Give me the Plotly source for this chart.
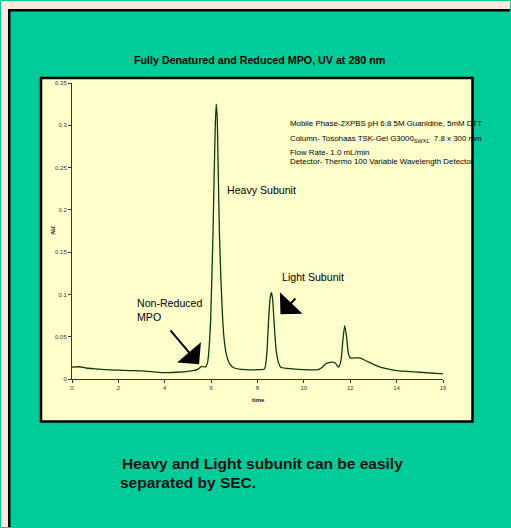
import plotly.graph_objects as go

# ---- data ----
time = [0.0, 0.3, 0.6, 1.0, 1.5, 2.0, 2.5, 3.0, 3.5, 4.0, 4.5, 5.0, 5.4, 5.6, 5.75,
        5.85, 5.92, 5.98, 6.03, 6.08, 6.13, 6.18, 6.22, 6.26, 6.31, 6.36, 6.42, 6.48,
        6.55, 6.65, 6.8, 7.0, 7.5, 8.0, 8.3, 8.4, 8.48, 8.55, 8.6, 8.65, 8.72, 8.8,
        8.9, 9.0, 9.5, 10.0, 10.6, 10.75, 10.95, 11.2, 11.35, 11.5, 11.6, 11.68, 11.76,
        11.84, 11.92, 12.0, 12.4, 12.8, 13.2, 13.6, 14.0, 15.0, 16.0]
au = [0.014, 0.0145, 0.013, 0.012, 0.011, 0.0105, 0.010, 0.0095, 0.0085, 0.0075, 0.008,
      0.009, 0.011, 0.015, 0.014, 0.02, 0.04, 0.07, 0.12, 0.17, 0.24, 0.30, 0.325, 0.31,
      0.24, 0.17, 0.12, 0.08, 0.05, 0.03, 0.018, 0.013, 0.011, 0.011, 0.012, 0.03, 0.07,
      0.097, 0.102, 0.095, 0.065, 0.035, 0.02, 0.014, 0.012, 0.011, 0.011, 0.013, 0.018,
      0.020, 0.019, 0.014, 0.022, 0.045, 0.063, 0.05, 0.03, 0.025, 0.025, 0.02, 0.015,
      0.012, 0.01, 0.008, 0.006]

x_ticks = [0, 2, 4, 6, 8, 10, 12, 14, 16]
y_ticks = [0, 0.05, 0.1, 0.15, 0.2, 0.25, 0.3, 0.35]

title_text = "Fully Denatured and Reduced MPO, UV at 280 nm"
info_lines = [
    "Mobile Phase-2XPBS pH 6.8 5M Guanidine, 5mM DTT",
    "Column- Tosohaas TSK-Gel G3000<sub>SWXL</sub>  7.8 x 300 mm",
    "Flow Rate- 1.0 mL/min",
    "Detector- Thermo 100 Variable Wavelength Detector",
]
caption_lines = ["Heavy and Light subunit can be easily", "separated by SEC."]

W, H = 511, 528
ML, MR, MT, MB = 72, 68, 83, 149
PW, PH = W - ML - MR, H - MT - MB


def px(x):
    return (x - ML) / PW


def py(y):
    return (H - MB - y) / PH


FONT = "Liberation Sans, Arial, sans-serif"
GREEN = "#00CC99"
CREAM = "#FFFFCC"
PEACH = "#FEEBDC"


def box(x0, x1, y0, y1, fill):
    return dict(type="rect", xref="paper", yref="paper", x0=px(x0), x1=px(x1),
                y0=py(y1), y1=py(y0), fillcolor=fill, line=dict(width=0), layer="below")


fig = go.Figure()
fig.add_trace(go.Scatter(x=time, y=au, mode="lines",
                         line=dict(color="#0B3B0B", width=1.3, shape="spline", smoothing=0.6),
                         hoverinfo="skip", showlegend=False))

shapes = [
    box(1, 8, 1, H - 1, PEACH),          # peach page strip, left
    box(1, W - 1, 1, 9, PEACH),          # peach page strip, top
    box(8, 10.5, 9, H - 1, "black"),     # slide border, left
    box(8, W - 1, 9, 11.5, "black"),     # slide border, top
    # cream chart panel
    dict(type="rect", xref="paper", yref="paper", x0=px(41), x1=px(472.5), y0=py(78), y1=py(421.5),
         fillcolor=CREAM, line=dict(color="black", width=2.5), layer="below"),
]

ann = []
ann.append(dict(text="<b>" + title_text + "</b>", xref="paper", yref="paper", x=px(259), y=py(60),
                yanchor="middle", showarrow=False, font=dict(family=FONT, size=10.7, color="black")))
info_y = [123.5, 138.5, 152.5, 161.5]
for t, yy in zip(info_lines, info_y):
    ann.append(dict(text=t, xref="paper", yref="paper", x=px(288), y=py(yy), xanchor="left",
                    yanchor="middle", showarrow=False, font=dict(family=FONT, size=7.9, color="black")))
ann.append(dict(text="Heavy Subunit", x=6.58, y=0.224, xanchor="left", yanchor="middle",
                showarrow=False, font=dict(family=FONT, size=10.6, color="black")))
ann.append(dict(text="Light Subunit", x=8.99, y=0.121, xanchor="left", yanchor="middle",
                showarrow=False, font=dict(family=FONT, size=10.6, color="black")))
ann.append(dict(text="Non-Reduced<br>MPO", x=2.73, y=0.0816, xanchor="left", yanchor="middle",
                align="left", showarrow=False, font=dict(family=FONT, size=10.6, color="black")))
# arrows
ann.append(dict(text=" ", x=5.48, y=0.0174, ax=4.18, ay=0.0596, axref="x", ayref="y",
                showarrow=True, arrowhead=1, arrowsize=2.6, arrowwidth=2, arrowcolor="black",
                font=dict(size=1)))
ann.append(dict(text=" ", x=8.99, y=0.0765, ax=9.70, ay=0.097, axref="x", ayref="y",
                showarrow=True, arrowhead=1, arrowsize=2.6, arrowwidth=2, arrowcolor="black",
                font=dict(size=1)))
# axis titles
ann.append(dict(text="<b>time</b>", xref="paper", yref="paper", x=px(258), y=py(400),
                yanchor="middle", showarrow=False, font=dict(family=FONT, size=6, color="#222")))
ann.append(dict(text="<b>AU</b>", xref="paper", yref="paper", x=px(48), y=py(231), textangle=-90,
                showarrow=False, font=dict(family=FONT, size=6, color="#222")))
ann.append(dict(text="<b>" + caption_lines[0] + "</b>", xref="paper", yref="paper", x=px(120),
                y=py(463), xanchor="left", yanchor="middle", showarrow=False,
                font=dict(family=FONT, size=15.5, color="#111")))
ann.append(dict(text="<b>" + caption_lines[1] + "</b>", xref="paper", yref="paper", x=px(118),
                y=py(482), xanchor="left", yanchor="middle", showarrow=False,
                font=dict(family=FONT, size=15.5, color="#111")))

fig.update_layout(
    width=W, height=H, autosize=False,
    margin=dict(l=ML, r=MR, t=MT, b=MB, pad=0),
    paper_bgcolor=GREEN, plot_bgcolor=CREAM,
    shapes=shapes, annotations=ann,
    xaxis=dict(range=[0, 16], tickvals=x_ticks, ticks="outside", ticklen=3, tickcolor="#333",
               showline=True, linecolor="#333", linewidth=1, showgrid=False, zeroline=False,
               tickfont=dict(family=FONT, size=6, color="#333")),
    yaxis=dict(range=[0, 0.35], tickvals=y_ticks, ticks="outside", ticklen=3, tickcolor="#333",
               showline=True, linecolor="#333", linewidth=1, showgrid=False, zeroline=False,
               tickfont=dict(family=FONT, size=6, color="#333")),
)

fig.write_html("out.html", config={"displayModeBar": False})
